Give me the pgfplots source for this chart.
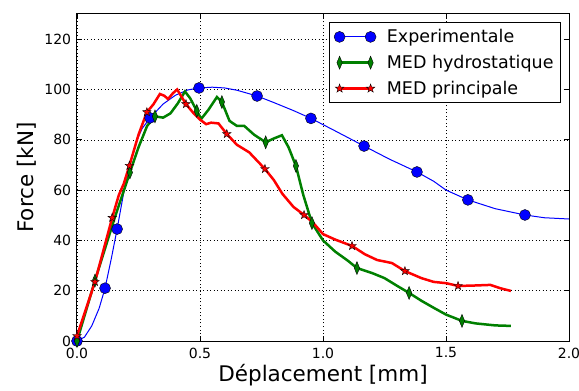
\documentclass[border=0pt]{standalone}
\usepackage{fontspec}
\setmainfont{DejaVu Sans}
\usepackage{pgfplots}
\pgfplotsset{compat=1.18}
\pgfdeclareplotmark{fstar}{%
 \pgfpathmoveto{\pgfpointpolar{90}{\pgfplotmarksize}}%
 \pgfpathlineto{\pgfpointpolar{126}{0.4\pgfplotmarksize}}%
 \pgfpathlineto{\pgfpointpolar{162}{\pgfplotmarksize}}%
 \pgfpathlineto{\pgfpointpolar{198}{0.4\pgfplotmarksize}}%
 \pgfpathlineto{\pgfpointpolar{234}{\pgfplotmarksize}}%
 \pgfpathlineto{\pgfpointpolar{270}{0.4\pgfplotmarksize}}%
 \pgfpathlineto{\pgfpointpolar{306}{\pgfplotmarksize}}%
 \pgfpathlineto{\pgfpointpolar{342}{0.4\pgfplotmarksize}}%
 \pgfpathlineto{\pgfpointpolar{18}{\pgfplotmarksize}}%
 \pgfpathlineto{\pgfpointpolar{54}{0.4\pgfplotmarksize}}%
 \pgfpathclose
 \pgfusepathqfillstroke}
\definecolor{mplgreen}{rgb}{0,0.5,0}
\begin{document}
\begin{tikzpicture}
\path[use as bounding box] (-77pt,-50pt) rectangle (502pt,341pt);
\begin{axis}[
  scale only axis, width=492pt, height=327pt,
  xmin=0, xmax=2, ymin=0, ymax=130,
  xtick={0,0.5,1,1.5,2}, ytick={0,20,40,60,80,100,120},
  xticklabel style={/pgf/number format/.cd,fixed,fixed zerofill,precision=1,/tikz/.cd,yshift=-5.5pt},
  yticklabel style={xshift=-4.7pt},
  /pgf/number format/assume math mode=true,
  grid=major,
  major grid style={black, line width=0.5pt, dash pattern=on 1pt off 2.5pt},
  tick align=inside, major tick length=5pt,
  tick style={black, line width=0.6pt},
  axis line style={line width=1pt},
  tick label style={font=\fontsize{14}{14}\selectfont, inner sep=1pt},
  label style={font=\fontsize{21.5}{21.5}\selectfont},
  xlabel={Déplacement [mm]}, ylabel={Force [kN]},
  xlabel shift=1.5pt, ylabel shift=4pt,
  legend style={at={(rel axis cs:1,1)}, anchor=north east, xshift=-8pt, yshift=-8pt,
    font=\fontsize{17.5}{17.5}\selectfont, draw=black, line width=1pt,
    cells={anchor=west}, row sep=7pt, inner sep=5pt},
  legend image code/.code={\draw[#1, mark indices={1,2}] plot coordinates {(0pt,0pt)(31pt,0pt)}; \path (44pt,0pt);},
]
\addplot[blue, line width=1pt, mark=*, mark size=5.5pt,
  mark options={fill=blue, draw=black, line width=0.4pt},
  mark indices={1,5,7,12,16,20,23,25,27,30,32}] coordinates {
(0,0)(0.03,1.5)(0.06,6)(0.09,13)(0.114,21)(0.14,33)(0.163,44.5)(0.19,59)
(0.215,70)(0.24,79)(0.265,84.5)(0.297,88.7)(0.35,94.2)(0.4,97.7)(0.45,99.8)
(0.496,100.6)(0.55,100.9)(0.6,100.6)(0.65,99.7)(0.732,97.4)(0.8,94.8)(0.88,91.6)
(0.951,88.5)(1.05,83.5)(1.167,77.5)(1.27,72.3)(1.382,67.2)(1.45,63.5)(1.5,60)
(1.589,56.1)(1.7,52.6)(1.821,50.1)(1.9,49)(2.0,48.5)};
\addlegendentry{Experimentale}
\addplot[mplgreen, line width=2.5pt, mark=diamond*, mark size=6.5pt,
  mark options={fill=mplgreen, draw=black, line width=0.4pt, xscale=0.55},
  mark indices={1,2,4,7,13,17,22,26,28,32,36,40}] coordinates {
(0,0)(0.073,24)(0.15,48)(0.215,67)(0.25,77)(0.285,85.5)(0.317,89.3)(0.35,88.8)
(0.38,90.5)(0.41,94.5)(0.439,99.2)(0.46,96.5)(0.487,91.5)(0.505,88.3)(0.535,92)
(0.569,97)(0.589,95)(0.62,87.5)(0.65,85.5)(0.68,85.5)(0.72,82)(0.767,79)(0.8,80.5)
(0.833,81.8)(0.86,77)(0.89,69.6)(0.92,58)(0.955,46.9)(1.0,40)(1.05,35.5)(1.1,32)
(1.138,29)(1.2,27)(1.25,25)(1.3,22)(1.35,19.1)(1.4,16)(1.45,13.2)(1.5,10.5)
(1.565,8)(1.62,7)(1.7,6.2)(1.764,6)};
\addlegendentry{MED hydrostatique}
\addplot[red, line width=2.5pt, mark=fstar, mark size=4.5pt,
  mark options={fill=red, draw=black, line width=0.4pt},
  mark indices={1,2,3,6,8,15,21,24,28,32,36,40}] coordinates {
(0,2)(0.073,23.5)(0.143,49)(0.17,58)(0.19,62.5)(0.213,69.7)(0.25,82)(0.284,91)
(0.31,94)(0.337,98.2)(0.355,97.5)(0.37,96.2)(0.39,98.5)(0.407,100)(0.443,94.2)
(0.47,91)(0.5,88)(0.525,86.2)(0.545,86.8)(0.575,86.5)(0.609,82.3)(0.65,78)(0.7,75)
(0.764,68.4)(0.8,64)(0.835,58.5)(0.88,53.3)(0.923,50.1)(0.96,47)(1.0,42.5)
(1.05,40.3)(1.118,37.8)(1.17,34.5)(1.22,32.2)(1.28,31)(1.333,27.8)(1.4,25)
(1.45,23.5)(1.5,23)(1.549,21.9)(1.6,22)(1.68,22.3)(1.72,21)(1.764,19.9)};
\addlegendentry{MED principale}
\end{axis}
\end{tikzpicture}
\end{document}
